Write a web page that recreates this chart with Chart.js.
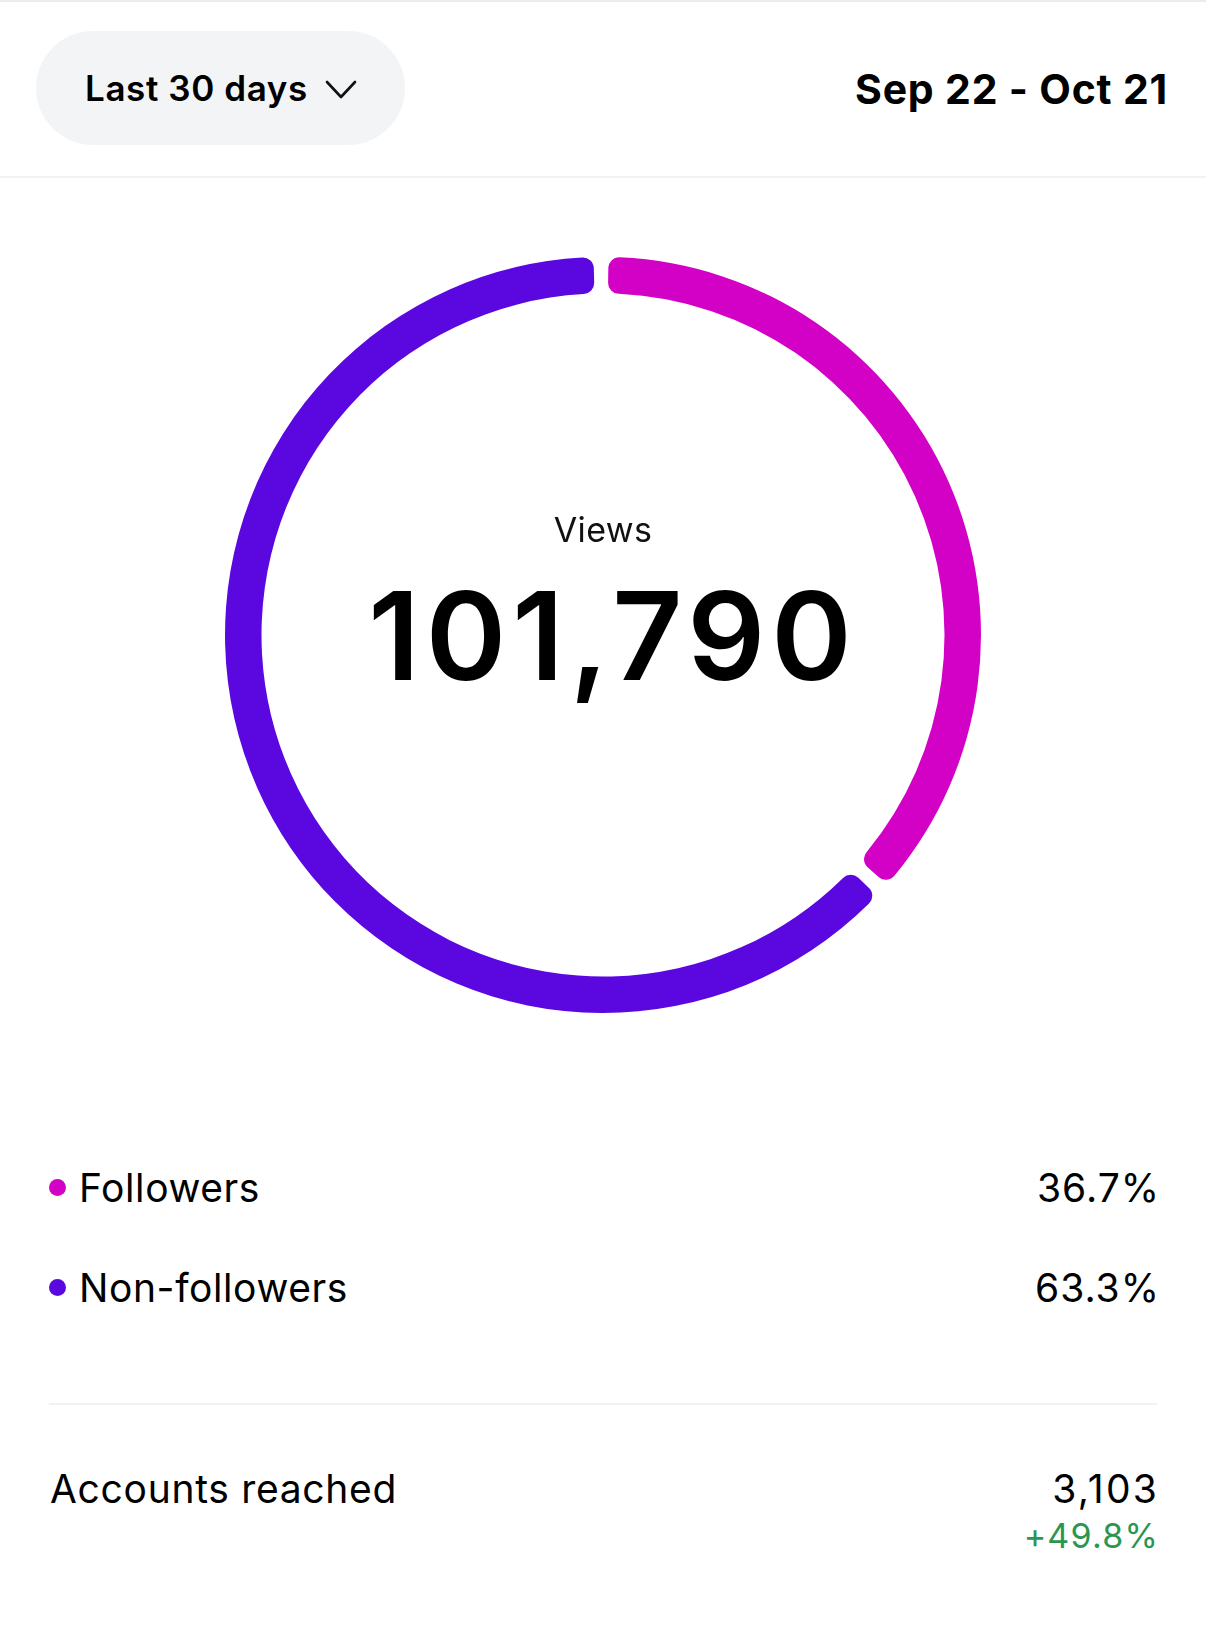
<!DOCTYPE html>
<html>
<head>
<meta charset="utf-8">
<script src="https://cdn.jsdelivr.net/npm/chart.js@4.4.0/dist/chart.umd.min.js"></script>
<style>
  html, body { margin: 0; padding: 0; background: #fff; }
  body { width: 1206px; height: 1625px; position: relative; overflow: hidden;
         font-family: "Inter", "Roboto", sans-serif; color: #000; }
  .topline { position: absolute; left: 0; top: 0; width: 1206px; height: 2px; background: #ececec; }
  .pill { position: absolute; left: 36px; top: 31px; width: 369px; height: 114px;
          border-radius: 57px; background: #f3f4f6; }
  .pill span { position: absolute; left: 49px; top: 0; line-height: 114px;
               font-size: 35px; font-weight: 600; letter-spacing: 0.6px; }
  .pill svg { position: absolute; left: 288px; top: 48px; }
  .range { position: absolute; right: 38px; top: 62px; font-size: 41px; font-weight: 700;
           letter-spacing: 0.8px; line-height: 54px; }
  .divider { position: absolute; left: 0; top: 176px; width: 1206px; height: 2px; background: #f2f2f2; }
  #wrap { position: absolute; left: 225px; top: 257px; width: 756px; height: 756px; }
  .center { position: absolute; left: 225px; top: 257px; width: 756px; height: 756px; pointer-events: none; }
  .center .lbl { position: absolute; width: 100%; text-align: center; top: 252px;
                 font-size: 34px; font-weight: 400; color: #111; letter-spacing: 0.4px; }
  .center .num { position: absolute; left: 10px; width: 100%; text-align: center; top: 299px;
                 font-size: 122px; font-weight: 600; letter-spacing: 6px; line-height: 160px; }
  .row { position: absolute; left: 49px; width: 1111px; height: 56px; font-size: 39px; line-height: 56px;
         letter-spacing: 0.6px; }
  .row .dot { position: absolute; left: 0; top: 19px; width: 17px; height: 17px; border-radius: 50%; }
  .row .name { position: absolute; left: 30px; top: 0; }
  .row .val { position: absolute; right: 0; top: 0; letter-spacing: 1px; }
  .sep { position: absolute; left: 49px; top: 1403px; width: 1108px; height: 2px; background: #f2f2f2; }
  .acc { position: absolute; left: 50px; top: 1461px; font-size: 39px; line-height: 56px; letter-spacing: 0.7px; }
  .accv { position: absolute; right: 47px; top: 1461px; font-size: 39px; line-height: 56px; letter-spacing: 2.2px; }
  .accd { position: absolute; right: 47px; top: 1513px; font-size: 34px; line-height: 46px; color: #2b9650;
          letter-spacing: 1.2px; }
</style>
</head>
<body>
<div class="topline"></div>
<div class="pill"><span>Last 30 days</span>
  <svg width="34" height="22" viewBox="0 0 34 22"><path d="M3 3 L17 18 L31 3" fill="none" stroke="#111" stroke-width="2.6" stroke-linecap="round" stroke-linejoin="round"/></svg>
</div>
<div class="range">Sep 22 - Oct 21</div>
<div class="divider"></div>

<div id="wrap"><canvas id="views" width="756" height="756"></canvas></div>
<div class="center">
  <div class="lbl">Views</div>
  <div class="num" id="total"></div>
</div>

<div id="legend"></div>
<div class="sep"></div>
<div class="acc">Accounts reached</div>
<div class="accv" id="reach"></div>
<div class="accd" id="reachDelta"></div>

<script>
// audience split of views, in percent
const labels = ['Followers', 'Non-followers'];
const shares = [36.7, 63.3];
const colors = ['#d300c5', '#5a08df'];

const totalViews = '101,790';
const accountsReached = '3,103';
const reachChange = '+49.8%';

document.getElementById('total').textContent = totalViews;
document.getElementById('reach').textContent = accountsReached;
document.getElementById('reachDelta').textContent = reachChange;

// legend rows below the ring
const legend = document.getElementById('legend');
labels.forEach((name, i) => {
  const row = document.createElement('div');
  row.className = 'row';
  row.style.top = (1160 + i * 100) + 'px';
  row.innerHTML = '<div class="dot" style="background:' + colors[i] + '"></div>' +
    '<div class="name">' + name + '</div><div class="val">' + shares[i].toFixed(1) + '%</div>';
  legend.appendChild(row);
});

new Chart(document.getElementById('views'), {
  type: 'doughnut',
  data: {
    labels: labels,
    datasets: [{
      data: shares,
      backgroundColor: colors,
      borderWidth: 0,
      borderRadius: 11,
      spacing: 9
    }]
  },
  options: {
    responsive: false,
    animation: false,
    cutout: 337,
    plugins: {
      legend: { display: false },
      tooltip: { enabled: false }
    }
  }
});
</script>
</body>
</html>
